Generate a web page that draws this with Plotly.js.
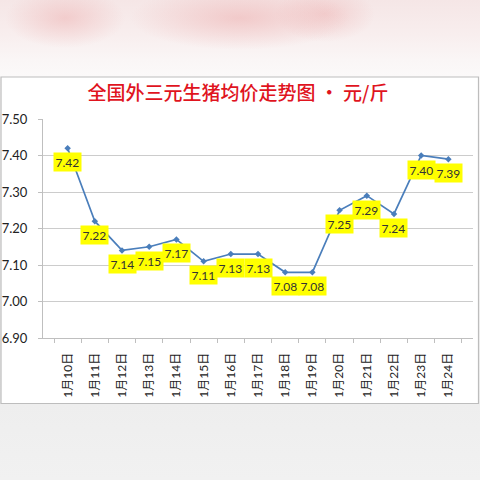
<!DOCTYPE html>
<html>
<head>
<meta charset="utf-8">
<script src="https://cdn.plot.ly/plotly-3.0.1.min.js"></script>
<style>
html, body { margin: 0; padding: 0; width: 480px; height: 480px; overflow: hidden; }
body {
  background:
    radial-gradient(ellipse 60px 30px at 65px 18px, rgba(238,180,180,0.55), rgba(238,180,180,0) 100%),
    radial-gradient(ellipse 110px 32px at 240px 18px, rgba(238,180,180,0.6), rgba(238,180,180,0) 100%),
    radial-gradient(ellipse 50px 28px at 325px 14px, rgba(238,180,180,0.5), rgba(238,180,180,0) 100%),
    linear-gradient(to bottom, #f5e6e6 0px, #f8eeee 35px, #faf6f6 60px, #fbf9f9 76px, #eeeeee 404px, #f1f1f1 480px);
}
#chart { width: 480px; height: 480px; }
</style>
</head>
<body>
<div id="chart"></div>
<script>
var chartTitle = "全国外三元生猪均价走势图 · 元/斤";
var categories = ["1月10日","1月11日","1月12日","1月13日","1月14日","1月15日","1月16日","1月17日","1月18日","1月19日","1月20日","1月21日","1月22日","1月23日","1月24日"];
var prices = [7.42, 7.22, 7.14, 7.15, 7.17, 7.11, 7.13, 7.13, 7.08, 7.08, 7.25, 7.29, 7.24, 7.40, 7.39];
var yTickValues = [6.90, 7.00, 7.10, 7.20, 7.30, 7.40, 7.50];

var W = 480, H = 480;
function px(x) { return x / W; }
function py(y) { return 1 - y / H; }

var trace = {
  type: "scatter",
  mode: "lines+markers",
  x: categories,
  y: prices,
  line: { color: "#4a7ebb", width: 1.7 },
  marker: { symbol: "diamond", size: 5, color: "#4a7ebb" },
  hoverinfo: "x+y",
  cliponaxis: false
};

var annotations = categories.map(function (c, i) {
  return {
    x: c, y: prices[i], xref: "x", yref: "y",
    text: prices[i].toFixed(2),
    showarrow: false,
    yshift: -14,
    bgcolor: "#ffff00",
    borderpad: 1.5,
    font: { family: "Lato, 'Noto Sans', sans-serif", size: 12, color: "#333333" }
  };
});

var layout = {
  width: W, height: H,
  margin: { l: 0, r: 0, t: 0, b: 0 },
  paper_bgcolor: "rgba(0,0,0,0)",
  plot_bgcolor: "rgba(0,0,0,0)",
  showlegend: false,
  font: { family: "Lato, 'Noto Sans CJK SC', sans-serif", size: 12, color: "#222222" },
  title: {
    text: chartTitle,
    x: 238 / W, xanchor: "center", xref: "paper",
    y: py(93), yanchor: "middle", yref: "paper",
    font: { family: "'Noto Sans CJK SC', sans-serif", size: 19, color: "#e0141e", weight: 500 }
  },
  xaxis: {
    domain: [px(43), px(473)],
    type: "category",
    showgrid: false,
    showline: true, linecolor: "#bfbfbf", linewidth: 1,
    ticks: "outside", tickson: "boundaries", ticklen: 4, tickcolor: "#bfbfbf",
    tickangle: -90,
    ticklabelstandoff: 9,
    tickfont: { family: "Lato, 'Noto Sans CJK SC', sans-serif", size: 12, color: "#222222" },
    fixedrange: true
  },
  yaxis: {
    domain: [py(338), py(119)],
    range: [6.90, 7.50],
    tickvals: yTickValues,
    tickformat: ".2f",
    showgrid: true, gridcolor: "#cccccc", gridwidth: 1,
    zeroline: false,
    showline: true, linecolor: "#bfbfbf", linewidth: 1,
    ticks: "outside", ticklen: 4, tickcolor: "#bfbfbf",
    ticklabelstandoff: 8,
    tickfont: { family: "Lato, 'Noto Sans', sans-serif", size: 13, color: "#222222" },
    fixedrange: true
  },
  shapes: [{
    type: "rect", xref: "paper", yref: "paper", layer: "below",
    x0: px(1), x1: px(478.5), y0: py(403.5), y1: py(77),
    fillcolor: "#ffffff", line: { color: "#bdbdbd", width: 1.2 }
  }],
  annotations: annotations
};

Plotly.newPlot("chart", [trace], layout, { displayModeBar: false, staticPlot: true });
</script>
</body>
</html>
